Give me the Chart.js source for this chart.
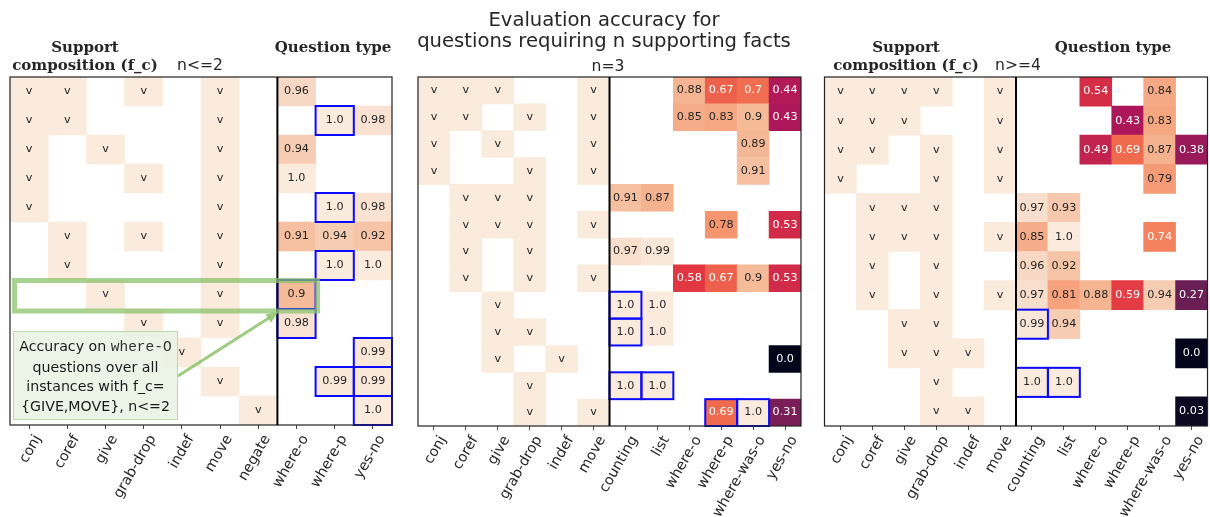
<!DOCTYPE html>
<html>
<head>
<meta charset="utf-8">
<script src="https://cdn.jsdelivr.net/npm/chart.js@4.4.0/dist/chart.umd.min.js"></script>
<style>
  body { margin: 0; background: #fff; width: 1210px; height: 517px; position: relative; overflow: hidden; font-family: 'DejaVu Sans', sans-serif; }
  canvas { position: absolute; top: 0; }
  .txt { position: absolute; color: #262626; white-space: nowrap; transform: translate(-50%, -50%); line-height: 1; text-align: center; }
  .hdr { font-family: 'DejaVu Serif', serif; font-weight: bold; font-size: 15px; line-height: 18px; }
  #note { position: absolute; left: 13px; top: 331px; width: 165px; height: 89px; box-sizing: border-box;
          background: rgba(234, 243, 229, 0.92); border: 1px solid #b9d9a6; font-size: 14.2px; line-height: 19.5px;
          text-align: center; color: #1a1a1a; padding-top: 5px; }
  #note code { font-family: 'Liberation Mono', monospace; font-size: 14.5px; color: #333; }
</style>
</head>
<body>
<canvas id="p1" width="405" height="517" style="left:0px"></canvas>
<canvas id="p2" width="410" height="517" style="left:400px"></canvas>
<canvas id="p3" width="400" height="517" style="left:810px"></canvas>

<div class="txt" style="left:604px;top:30px;font-size:19.6px;line-height:21px">Evaluation accuracy for<br>questions requiring n supporting facts</div>
<div class="txt" style="left:608px;top:67px;font-size:15.6px">n=3</div>
<div class="txt" style="left:200px;top:66px;font-size:15.6px">n&lt;=2</div>
<div class="txt" style="left:1018px;top:66px;font-size:15.6px">n&gt;=4</div>
<div class="txt hdr" style="left:85px;top:56px">Support<br>composition (f_c)</div>
<div class="txt hdr" style="left:333px;top:47px">Question type</div>
<div class="txt hdr" style="left:906px;top:56px">Support<br>composition (f_c)</div>
<div class="txt hdr" style="left:1113px;top:47px">Question type</div>
<div id="note">Accuracy on <code>where-O</code><br>questions over all<br>instances with f_c=<br>{GIVE,MOVE}, n&lt;=2</div>

<script>
// ---- n<=2 ----
const factors1 = ['conj', 'coref', 'give', 'grab-drop', 'indef', 'move', 'negate'];
const questions1 = ['where-o', 'where-p', 'yes-no'];
const support1 = [
    ['conj', 'coref', 'grab-drop', 'move'],
    ['conj', 'coref', 'move'],
    ['conj', 'give', 'move'],
    ['conj', 'grab-drop', 'move'],
    ['conj', 'move'],
    ['coref', 'grab-drop', 'move'],
    ['coref', 'move'],
    ['give', 'move'],
    ['grab-drop', 'move'],
    ['indef'],
    ['move'],
    ['negate']
];
const acc1 = [
    [0.96, null, null],
    [null, 1.0, 0.98],
    [0.94, null, null],
    [1.0, null, null],
    [null, 1.0, 0.98],
    [0.91, 0.94, 0.92],
    [null, 1.0, 1.0],
    [0.9, null, null],
    [0.98, null, null],
    [null, null, 0.99],
    [null, 0.99, 0.99],
    [null, null, 1.0]
];
const boxed1 = [[1, 'where-p'], [4, 'where-p'], [6, 'where-p'], [7, 'where-o'], [8, 'where-o'],
                [9, 'yes-no'], [10, 'where-p'], [10, 'yes-no'], [11, 'yes-no']];

// ---- n=3 ----
const factors2 = ['conj', 'coref', 'give', 'grab-drop', 'indef', 'move'];
const questions2 = ['counting', 'list', 'where-o', 'where-p', 'where-was-o', 'yes-no'];
const support2 = [
    ['conj', 'coref', 'give', 'move'],
    ['conj', 'coref', 'grab-drop', 'move'],
    ['conj', 'give', 'move'],
    ['conj', 'grab-drop', 'move'],
    ['coref', 'give', 'grab-drop'],
    ['coref', 'give', 'grab-drop', 'move'],
    ['coref', 'grab-drop'],
    ['coref', 'grab-drop', 'move'],
    ['give'],
    ['give', 'grab-drop'],
    ['give', 'indef'],
    ['grab-drop'],
    ['grab-drop', 'move']
];
const acc2 = [
    [null, null, 0.88, 0.67, 0.7, 0.44],
    [null, null, 0.85, 0.83, 0.9, 0.43],
    [null, null, null, null, 0.89, null],
    [null, null, null, null, 0.91, null],
    [0.91, 0.87, null, null, null, null],
    [null, null, null, 0.78, null, 0.53],
    [0.97, 0.99, null, null, null, null],
    [null, null, 0.58, 0.67, 0.9, 0.53],
    [1.0, 1.0, null, null, null, null],
    [1.0, 1.0, null, null, null, null],
    [null, null, null, null, null, 0.0],
    [1.0, 1.0, null, null, null, null],
    [null, null, null, 0.69, 1.0, 0.31]
];
const boxed2 = [[8, 'counting'], [9, 'counting'], [11, 'counting'], [11, 'list'],
                [12, 'where-p'], [12, 'where-was-o']];

// ---- n>=4 ----
const factors3 = ['conj', 'coref', 'give', 'grab-drop', 'indef', 'move'];
const questions3 = ['counting', 'list', 'where-o', 'where-p', 'where-was-o', 'yes-no'];
const support3 = [
    ['conj', 'coref', 'give', 'grab-drop', 'move'],
    ['conj', 'coref', 'give', 'move'],
    ['conj', 'coref', 'grab-drop', 'move'],
    ['conj', 'grab-drop', 'move'],
    ['coref', 'give', 'grab-drop'],
    ['coref', 'give', 'grab-drop', 'move'],
    ['coref', 'grab-drop'],
    ['coref', 'grab-drop', 'move'],
    ['give', 'grab-drop'],
    ['give', 'grab-drop', 'indef'],
    ['grab-drop'],
    ['grab-drop', 'indef']
];
const acc3 = [
    [null, null, 0.54, null, 0.84, null],
    [null, null, null, 0.43, 0.83, null],
    [null, null, 0.49, 0.69, 0.87, 0.38],
    [null, null, null, null, 0.79, null],
    [0.97, 0.93, null, null, null, null],
    [0.85, 1.0, null, null, 0.74, null],
    [0.96, 0.92, null, null, null, null],
    [0.97, 0.81, 0.88, 0.59, 0.94, 0.27],
    [0.99, 0.94, null, null, null, null],
    [null, null, null, null, null, 0.0],
    [1.0, 1.0, null, null, null, null],
    [null, null, null, null, null, 0.03]
];
const boxed3 = [[8, 'counting'], [10, 'counting'], [10, 'list']];

// rocket colormap stops (approximate)
const rocketStops = [
    [0.0, [3, 5, 26]], [0.143, [53, 25, 62]], [0.286, [112, 31, 87]], [0.429, [173, 23, 89]],
    [0.571, [225, 51, 66]], [0.714, [243, 118, 81]], [0.8, [245, 160, 122]], [0.857, [245, 174, 138]],
    [0.9, [245, 187, 153]], [0.94, [246, 204, 179]], [0.97, [248, 222, 205]], [1.0, [250, 235, 221]]
];

function rocket(v) {
    for (let i = 1; i < rocketStops.length; i++) {
        const [p1, c1] = rocketStops[i];
        const [p0, c0] = rocketStops[i - 1];
        if (v <= p1) {
            const t = (v - p0) / (p1 - p0);
            return c0.map((c, k) => Math.round(c + (c1[k] - c) * t));
        }
    }
    return rocketStops[rocketStops.length - 1][1];
}

function luminance(rgb) {
    const lin = rgb.map(c => {
        c /= 255;
        return c <= 0.03928 ? c / 12.92 : Math.pow((c + 0.055) / 1.055, 2.4);
    });
    return 0.2126 * lin[0] + 0.7152 * lin[1] + 0.0722 * lin[2];
}

const fmt = v => Number.isInteger(v) ? v.toFixed(1) : String(v);

function makePanel(id, factors, questions, support, acc, boxed, pad, axisH, extra) {
    const points = [];
    support.forEach((row, r) => row.forEach(f => points.push({ x: f, y: [r, r + 1], kind: 'f' })));
    acc.forEach((row, r) => row.forEach((v, j) => {
        if (v === null) return;
        const isBoxed = boxed.some(b => b[0] === r && b[1] === questions[j]);
        points.push({ x: questions[j], y: [r, r + 1], kind: 'q', v: v, boxed: isBoxed });
    }));

    const cellPlugin = {
        id: 'cells',
        afterDatasetsDraw(chart) {
            const ctx = chart.ctx;
            const area = chart.chartArea;
            const xs = chart.scales.x;
            const meta = chart.getDatasetMeta(0);
            const raws = chart.data.datasets[0].data;
            ctx.save();
            ctx.font = '11.2px DejaVu Sans';
            ctx.textAlign = 'center';
            ctx.textBaseline = 'middle';
            meta.data.forEach((bar, i) => {
                const raw = raws[i];
                const cy = (bar.y + bar.base) / 2;
                if (raw.kind === 'f') {
                    ctx.fillStyle = '#262626';
                    ctx.fillText('v', bar.x, cy);
                } else {
                    ctx.fillStyle = luminance(rocket(raw.v)) > 0.408 ? '#262626' : '#ffffff';
                    ctx.fillText(fmt(raw.v), bar.x, cy);
                }
            });
            // blue boxes
            ctx.strokeStyle = '#0a0aff';
            ctx.lineWidth = 2;
            meta.data.forEach((bar, i) => {
                if (!raws[i].boxed) return;
                const top = Math.min(bar.y, bar.base);
                ctx.strokeRect(bar.x - bar.width / 2, top, bar.width, Math.abs(bar.base - bar.y));
            });
            // frame
            ctx.strokeStyle = '#222';
            ctx.lineWidth = 1.2;
            ctx.strokeRect(area.left, area.top, area.right - area.left, area.bottom - area.top);
            // separator between support and question columns
            const sx = (xs.getPixelForValue(factors.length - 1) + xs.getPixelForValue(factors.length)) / 2;
            ctx.strokeStyle = '#000';
            ctx.lineWidth = 2;
            ctx.beginPath();
            ctx.moveTo(sx, area.top);
            ctx.lineTo(sx, area.bottom);
            ctx.stroke();
            if (extra) extra(chart, sx);
            ctx.restore();
        }
    };

    return new Chart(document.getElementById(id), {
        type: 'bar',
        data: {
            labels: factors.concat(questions),
            datasets: [{
                data: points,
                backgroundColor: c => {
                    const raw = c.raw;
                    if (!raw) return '#fff';
                    const rgb = raw.kind === 'f' ? rocket(1.0) : rocket(raw.v);
                    return 'rgb(' + rgb.join(',') + ')';
                },
                borderWidth: 0,
                barPercentage: 1,
                categoryPercentage: 1
            }]
        },
        options: {
            responsive: false,
            animation: false,
            layout: { padding: pad },
            plugins: {
                legend: { display: false },
                tooltip: { enabled: false }
            },
            scales: {
                x: {
                    type: 'category',
                    offset: true,
                    grid: { display: true, drawOnChartArea: false, offset: false, tickLength: 4, color: '#444' },
                    border: { display: false },
                    ticks: {
                        autoSkip: false, maxRotation: 60, minRotation: 60, padding: 3, labelOffset: 9,
                        color: '#262626', font: { family: 'DejaVu Sans', size: 14.3 }
                    },
                    afterFit: s => { s.height = axisH; s.paddingLeft = 0; s.paddingRight = 0; }
                },
                y: { type: 'linear', min: 0, max: support.length, reverse: true, display: false }
            }
        },
        plugins: [cellPlugin]
    });
}

// green highlight + arrow for the annotated row in the first panel
function annotate(chart, sx) {
    const ctx = chart.ctx;
    const area = chart.chartArea;
    const xs = chart.scales.x;
    const ys = chart.scales.y;
    const colW = xs.getPixelForValue(1) - xs.getPixelForValue(0);
    const yTop = ys.getPixelForValue(7);
    const yBot = ys.getPixelForValue(8);
    const right = xs.getPixelForValue(factors1.length) + colW / 2 + 2;
    ctx.strokeStyle = 'rgba(140, 194, 106, 0.75)';
    ctx.lineWidth = 5;
    ctx.strokeRect(area.left + 4.5, yTop + 0.5, right - area.left - 4.5, yBot - yTop + 1.5);
    // arrow
    const x0 = 178, y0 = 376, x1 = sx + 1, y1 = yBot + 3;
    const ang = Math.atan2(y1 - y0, x1 - x0);
    ctx.strokeStyle = 'rgba(140, 194, 106, 0.85)';
    ctx.fillStyle = 'rgba(140, 194, 106, 0.85)';
    ctx.lineWidth = 3;
    ctx.beginPath();
    ctx.moveTo(x0, y0);
    ctx.lineTo(x1 - 9 * Math.cos(ang), y1 - 9 * Math.sin(ang));
    ctx.stroke();
    ctx.beginPath();
    ctx.moveTo(x1, y1);
    ctx.lineTo(x1 - 12 * Math.cos(ang) + 5 * Math.sin(ang), y1 - 12 * Math.sin(ang) - 5 * Math.cos(ang));
    ctx.lineTo(x1 - 12 * Math.cos(ang) - 5 * Math.sin(ang), y1 - 12 * Math.sin(ang) + 5 * Math.cos(ang));
    ctx.closePath();
    ctx.fill();
}

makePanel('p1', factors1, questions1, support1, acc1, boxed1,
    { left: 10, right: 13, top: 77, bottom: 0 }, 92, annotate);
makePanel('p2', factors2, questions2, support2, acc2, boxed2,
    { left: 18, right: 9, top: 77, bottom: 0 }, 91, null);
makePanel('p3', factors3, questions3, support3, acc3, boxed3,
    { left: 14.5, right: 2.5, top: 77, bottom: 0 }, 91, null);
</script>
</body>
</html>
